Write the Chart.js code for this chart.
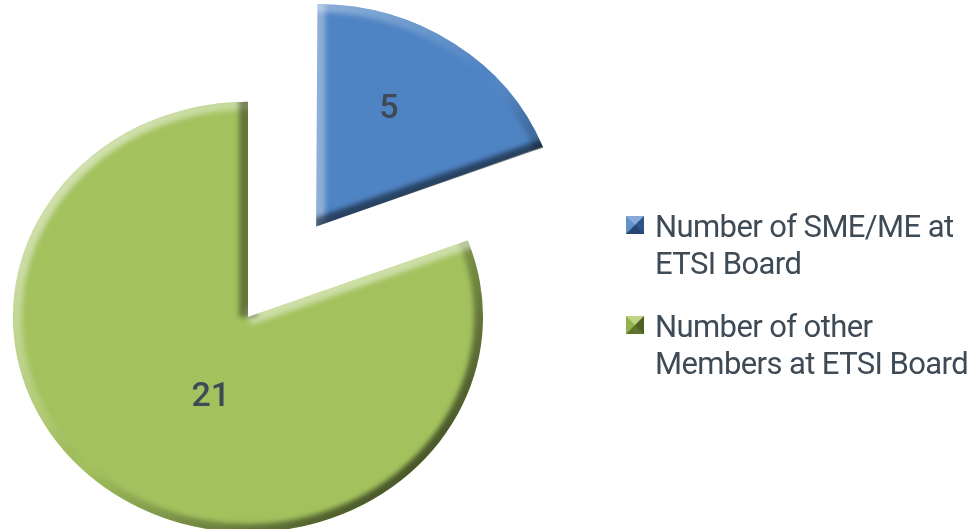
<!DOCTYPE html>
<html>
<head>
<meta charset="utf-8">
<title>ETSI Board members</title>
<script src="https://cdn.jsdelivr.net/npm/chart.js@4.4.1/dist/chart.umd.min.js"></script>
<style>
  html, body { margin: 0; padding: 0; background: #ffffff; overflow: hidden; }
  #wrap { position: relative; width: 980px; height: 529px; overflow: hidden; }
  #wrap canvas { position: absolute; left: 0; top: 0; }
  .legend-item {
    position: absolute; left: 655px;
    font-family: Roboto, 'Liberation Sans', sans-serif;
    font-size: 31px; line-height: 37px; letter-spacing: -0.6px;
    color: #3e4a55; white-space: nowrap;
  }
  .legend-mark {
    position: absolute; left: -29px; top: 8px;
    width: 0; height: 0; border-style: solid; border-width: 9px;
  }
</style>
</head>
<body>
<div id="wrap">
  <!-- taller than the window so the pie can sit low; the bottom is cut off -->
  <canvas id="chartCanvas" width="980" height="692"></canvas>
  <div id="legend"></div>
</div>
<script>
// data
const categories = [
    ['Number of SME/ME at', 'ETSI Board'],
    ['Number of other', 'Members at ETSI Board']
];
const memberCounts = [5, 21];
const sliceColors = ['#4f84c4', '#a3c25e'];
const explode = [480, 0];

// look
const TEXT = '#3e4a55';
const SQUASH = 0.916;   // the pie in the picture is a bit flatter than a circle
const BEVEL = 9;
const markColors = [
    { top: '#86abd9', left: '#6290c9', right: '#2c5488', bottom: '#23456f' },
    { top: '#bcd583', left: '#93b24f', right: '#4d6124', bottom: '#5c732d' }
];
// where the value labels sit: fraction of radius, turn from the middle angle (rad)
const labelPlace = [{ frac: 0.62, turn: -0.1 }, { frac: 0.39, turn: -0.185 }];

function shade(nx, ny) {
    const k = -(nx + ny) * 0.7071;
    if (k >= 0) return 'rgba(255,255,255,' + (0.5 * k).toFixed(3) + ')';
    return 'rgba(0,0,0,' + (0.55 * -k).toFixed(3) + ')';
}

// geometry of an arc as Chart.js actually draws it (offset moves it out)
function arcGeom(arc) {
    const o = (arc.options.offset || 0) / 4;
    const mid = (arc.startAngle + arc.endAngle) / 2;
    const fix = 1 - Math.sin(Math.min(Math.PI, arc.circumference));
    return {
        cx: arc.x + Math.cos(mid) * o,
        cy: arc.y + Math.sin(mid) * o,
        r: arc.outerRadius + o * fix,
        mid: mid
    };
}

const bevelPlugin = {
    id: 'bevel',
    beforeDatasetsDraw(chart) {
        chart.ctx.save();
        chart.ctx.scale(1, SQUASH);
    },
    afterDatasetsDraw(chart) {
        const ctx = chart.ctx;
        const arcs = chart.getDatasetMeta(0).data;
        arcs.forEach(arc => {
            const g = arcGeom(arc);
            ctx.save();
            ctx.beginPath();
            ctx.moveTo(g.cx, g.cy);
            ctx.arc(g.cx, g.cy, g.r, arc.startAngle, arc.endAngle);
            ctx.closePath();
            ctx.clip();
            ctx.filter = 'blur(2.5px)';
            ctx.lineWidth = BEVEL * 2;

            // rim, shaded by the direction it faces
            const cg = ctx.createConicGradient(0, g.cx, g.cy);
            for (let i = 0; i <= 24; i++) {
                const a = i / 24 * Math.PI * 2;
                cg.addColorStop(i / 24, shade(Math.cos(a), Math.sin(a)));
            }
            ctx.strokeStyle = cg;
            ctx.beginPath();
            ctx.arc(g.cx, g.cy, g.r, arc.startAngle - 0.05, arc.endAngle + 0.05);
            ctx.stroke();

            // straight edges
            const a1 = arc.startAngle, a2 = arc.endAngle;
            ctx.lineCap = 'butt';
            ctx.strokeStyle = shade(Math.sin(a1), -Math.cos(a1));
            ctx.beginPath();
            ctx.moveTo(g.cx, g.cy);
            ctx.lineTo(g.cx + Math.cos(a1) * (g.r + 10), g.cy + Math.sin(a1) * (g.r + 10));
            ctx.stroke();
            ctx.strokeStyle = shade(-Math.sin(a2), Math.cos(a2));
            ctx.beginPath();
            ctx.moveTo(g.cx, g.cy);
            ctx.lineTo(g.cx + Math.cos(a2) * (g.r + 10), g.cy + Math.sin(a2) * (g.r + 10));
            ctx.stroke();
            ctx.restore();
        });
        ctx.restore();

        // value labels
        ctx.save();
        ctx.font = '500 34px Roboto, sans-serif';
        ctx.fillStyle = TEXT;
        ctx.textAlign = 'center';
        ctx.textBaseline = 'alphabetic';
        arcs.forEach((arc, i) => {
            const g = arcGeom(arc);
            const p = labelPlace[i];
            const a = g.mid + p.turn;
            const x = g.cx + Math.cos(a) * g.r * p.frac;
            const y = (g.cy + Math.sin(a) * g.r * p.frac) * SQUASH;
            ctx.fillText(String(chart.data.datasets[0].data[i]), x, y + 12);
        });
        ctx.restore();
    }
};

window.onload = function() {
    const ctx = document.getElementById('chartCanvas').getContext('2d');

    const chart = new Chart(ctx, {
        type: 'pie',
        data: {
            labels: categories,
            datasets: [{
                data: memberCounts,
                backgroundColor: sliceColors,
                borderWidth: 0,
                offset: explode
            }]
        },
        options: {
            responsive: false,
            animation: false,
            events: [],
            radius: 235,
            layout: { padding: { left: 0, right: 484, top: 0, bottom: 0 } },
            plugins: {
                legend: { display: false },
                tooltip: { enabled: false }
            }
        },
        plugins: [bevelPlugin]
    });

    // legend built from the chart's own labels
    const legend = document.getElementById('legend');
    const tops = [208, 308];
    chart.data.labels.forEach((label, i) => {
        const item = document.createElement('div');
        item.className = 'legend-item';
        item.style.top = tops[i] + 'px';
        const mark = document.createElement('span');
        mark.className = 'legend-mark';
        const c = markColors[i];
        mark.style.borderColor = c.top + ' ' + c.right + ' ' + c.bottom + ' ' + c.left;
        item.appendChild(mark);
        label.forEach((line, j) => {
            if (j > 0) item.appendChild(document.createElement('br'));
            item.appendChild(document.createTextNode(line));
        });
        legend.appendChild(item);
    });
};
</script>
</body>
</html>
